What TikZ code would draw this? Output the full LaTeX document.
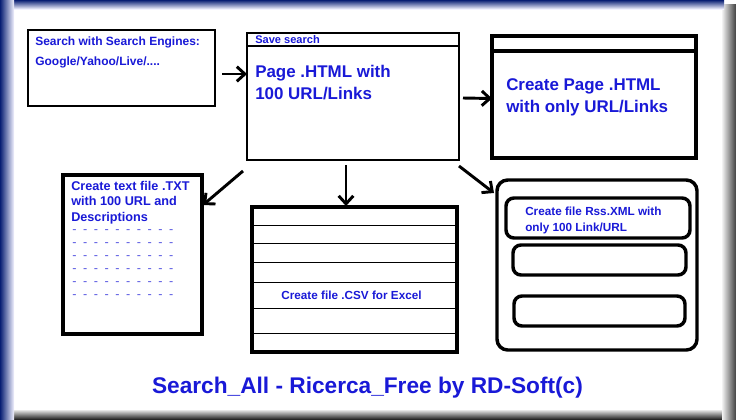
\documentclass[tikz,border=0pt]{standalone}
\usepackage{fontspec}
\setmainfont{Liberation Sans}
\usetikzlibrary{fit,positioning,arrows.meta}
\definecolor{inkblue}{RGB}{25,25,215}
\definecolor{dashblue}{RGB}{85,85,225}
\definecolor{framenavy}{RGB}{8,30,115}
\newcommand{\dashrow}{-\hspace{4.9pt}-\hspace{4.9pt}-\hspace{4.9pt}-\hspace{4.9pt}-\hspace{4.9pt}-\hspace{4.9pt}-\hspace{4.9pt}-\hspace{4.9pt}-\hspace{4.9pt}-}
\tikzset{thinbox/.style={rectangle,draw=black,line width=0.8pt,inner sep=0pt,outer sep=0pt},
heavybox/.style={thinbox,line width=2.6pt},
roundbox/.style={heavybox,rounded corners=6pt},
txt/.style={inner sep=0pt,align=left,text=inkblue,font=\bfseries\fontsize{9}{15}\selectfont},
big/.style={txt,font=\bfseries\fontsize{12.7}{16.5}\selectfont},
arr/.style={->,line width=2.2pt,black},
>={Straight Barb[length=6pt,width=11pt]}}

\begin{document}
\begin{tikzpicture}[x=0.75pt,y=-0.75pt]
  \useasboundingbox (0,0) rectangle (736,419);
  % frame
  \fill[white] (0,0) rectangle (736,419);
  \shade[top color=gray!20,bottom color=black!85] (12,410) rectangle (736,419);
  \shade[left color=gray!10,right color=black!75] (722,4) rectangle (736,419);
  \shade[top color=framenavy,bottom color=blue!5] (0,0) rectangle (724,9);
  \shade[left color=framenavy,right color=blue!5] (0,0) rectangle (14,419);

  % boxes
  \node[thinbox,fit={(28,30) (215,106)}] (search) {};
  \node[thinbox,fit={(247,33) (459,46)}] (hdr) {};
  \node[thinbox,fit={(247,46) (459,160)}] (page) {};
  \node[heavybox,fit={(492,36) (696,158)}] (create) {};
  \node[heavybox,fit={(63,175) (202,334)}] (list) {};
  \node[heavybox,line width=3pt,fit={(252,207) (457,352)}] (csv) {};
  \node[roundbox,rounded corners=8pt,fit={(497,180) (697,350)}] (rss) {};
  \node[roundbox,fit={(506,198) (690,238)}] (rssa) {};
  \node[roundbox,fit={(513,245) (686,275)}] (rssb) {};
  \node[roundbox,fit={(514,296) (685,326)}] (rssc) {};

  \draw[line width=2.6pt] ([shift={(0,15)}]create.north west) -- ([shift={(2,15)}]create.north east);
  \draw[line width=0.75pt] (csv.west |- 0,225) -- (csv.east |- 0,225);
  \draw[line width=0.75pt] (csv.west |- 0,243) -- (csv.east |- 0,243);
  \draw[line width=0.75pt] (csv.west |- 0,262) -- (csv.east |- 0,262);
  \draw[line width=0.75pt] (csv.west |- 0,282) -- (csv.east |- 0,282);
  \draw[line width=0.75pt] (csv.west |- 0,308) -- (csv.east |- 0,308);
  \draw[line width=0.75pt] (csv.west |- 0,333) -- (csv.east |- 0,333);

  % texts
  \node[txt,below right=5.25pt and 5.25pt of search.north west] (searchtxt) {Search with Search Engines:\\Google/Yahoo/Live/....};
  \node[txt,font=\bfseries\fontsize{8.3}{10}\selectfont,below right=1.9pt and 6pt of hdr.north west] (hdrtxt) {Save search};
  \node[big,below right=14.25pt and 6pt of page.north west] (pagetxt) {Page .HTML with\\100 URL/Links};
  \node[big,below right=31.5pt and 10.5pt of create.north west] (createtxt) {Create Page .HTML\\with only URL/Links};
  \node[txt,font=\bfseries\fontsize{9.5}{11.5}\selectfont,below right=4.5pt and 6pt of list.north west] (listtxt) {Create text file .TXT\\with 100 URL and\\Descriptions};
  \node[txt,text=dashblue,font=\fontsize{9.5}{9.75}\selectfont,below right=40.75pt and 6.75pt of list.north west] (dashes) {\dashrow\\\dashrow\\\dashrow\\\dashrow\\\dashrow\\\dashrow};
  \node[txt,font=\bfseries\fontsize{8.8}{11}\selectfont] (csvtxt) at ([shift={(-3,16)}]csv.center) {Create file .CSV for Excel};
  \node[txt,font=\bfseries\fontsize{8.8}{11.5}\selectfont,below right=6.75pt and 14.25pt of rssa.north west] (rsstxt) {Create file Rss.XML with\\only 100 Link/URL};
  \node[txt,anchor=base,font=\bfseries\fontsize{17}{20}\selectfont] (title) at (367.5,393) {Search\_All - Ricerca\_Free by RD-Soft(c)};

  % arrows
  \draw[arr] ([shift={(7,6)}]search.east) -- ([shift={(0,-29)}]page.west);
  \draw[arr] ([shift={(4,-5)}]page.east) -- ([shift={(0,1.5)}]create.west);
  \draw[arr] ([shift={(-4,11)}]page.south west) -- ([shift={(1,-49.5)}]list.east);
  \draw[arr] ([shift={(-7,5)}]page.south) -- ([shift={(-8.5,-1)}]csv.north);
  \draw[arr] ([shift={(0,6)}]page.south east) -- ([shift={(-3,13)}]rss.north west);
\end{tikzpicture}
\end{document}
